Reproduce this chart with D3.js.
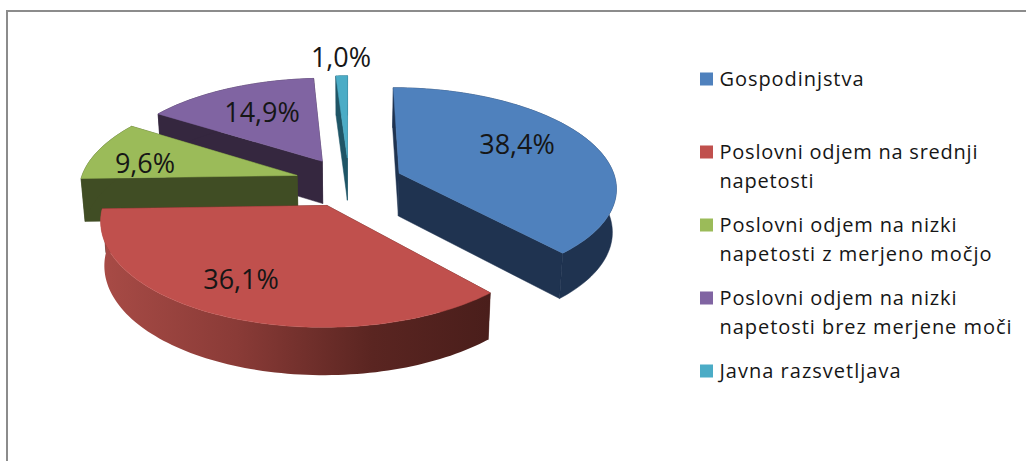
<!DOCTYPE html>
<html>
<head>
<meta charset="utf-8">
<script src="https://cdn.jsdelivr.net/npm/d3@7"></script>
<style>
html, body { margin: 0; padding: 0; background: #fff; }
svg { display: block; }
text { font-family: "Open Sans", sans-serif; fill: #161616; }
</style>
</head>
<body>
<svg id="chart" width="1026" height="461"></svg>
<script>
// Delež odjema po skupinah, exploded 3D pie
const categories = [
  "Gospodinjstva",
  "Poslovni odjem na srednji napetosti",
  "Poslovni odjem na nizki napetosti z merjeno močjo",
  "Poslovni odjem na nizki napetosti brez merjene moči",
  "Javna razsvetljava"
];
const legendLines = [
  ["Gospodinjstva"],
  ["Poslovni odjem na srednji", "napetosti"],
  ["Poslovni odjem na nizki", "napetosti z merjeno močjo"],
  ["Poslovni odjem na nizki", "napetosti brez merjene moči"],
  ["Javna razsvetljava"]
];
const legendLineWidths = [[144], [258, 94], [237, 272], [237, 292], [181]];
const values = [38.4, 36.1, 9.6, 14.9, 1.0];
const topColors = ["#4F81BD", "#C0504D", "#9BBB59", "#8064A2", "#4BACC6"];
const wallColors = ["#1F3350", "#4A1E1B", "#404D24", "#35273F", "#1F5566"];
const labelPositions = [[517, 144], [241, 279], [145, 163], [262, 112], [341, 57]];

const svg = d3.select("#chart");

// Frame: only the top and left edges are visible
svg.append("path")
  .attr("d", "M7,461 V11 H1026")
  .attr("fill", "none")
  .attr("stroke", "#8c8c8c")
  .attr("stroke-width", 2);

// Ground-plane projection with mild perspective
const cx = 349, cy = 182, rx = 217, ry = 99, persp = 0.132, explode = 0.25;
const project = (gx, gy) => {
  const s = 1 / (1 + persp * gy);
  return { x: cx + rx * gx * s, y: cy - ry * gy * s, s };
};
const lift = p => [p.x, p.y];
const drop = p => [cx + (p.x - cx) * 0.985, p.y + 18 + 25 * p.s];

const pie = d3.pie().sort(null).value(d => d)(values);
const line = d3.line();
const defs = svg.append("defs");

const grad = defs.append("linearGradient")
  .attr("id", "redWall")
  .attr("gradientUnits", "userSpaceOnUse")
  .attr("x1", 101).attr("x2", 489).attr("y1", 0).attr("y2", 0);
[[0, "#A84B46"], [0.35, "#8A3B37"], [0.7, "#5A2521"], [1, "#4A1E1B"]].forEach(([o, c]) =>
  grad.append("stop").attr("offset", o).attr("stop-color", c));

// Back-to-front painting order
const order = [4, 3, 2, 0, 1];
const g = svg.append("g");

order.forEach(i => {
  const d = pie[i];
  const mid = (d.startAngle + d.endAngle) / 2;
  const ox = explode * Math.sin(mid), oy = explode * Math.cos(mid);
  const apex = project(ox, oy);
  const n = Math.max(6, Math.ceil((d.endAngle - d.startAngle) * 40));
  const rim = d3.range(n + 1).map(k => {
    const a = d.startAngle + (d.endAngle - d.startAngle) * k / n;
    return project(ox + Math.sin(a), oy + Math.cos(a));
  });
  const first = rim[0], last = rim[n];
  const quad = (a, b) => [lift(a), lift(b), drop(b), drop(a)];
  const dark = wallColors[i];

  // Radial walls, the farther one first
  const radial = [quad(apex, first), quad(apex, last)]
    .sort((a, b) => d3.mean(a, p => p[1]) - d3.mean(b, p => p[1]));
  radial.forEach(q => g.append("path")
    .attr("d", line(q) + "Z").attr("fill", dark).attr("stroke", dark).attr("stroke-width", 0.5));

  // Outer rim wall
  const outer = rim.map(lift).concat(rim.slice().reverse().map(drop));
  g.append("path")
    .attr("d", line(outer) + "Z")
    .attr("fill", i === 1 ? "url(#redWall)" : dark)
    .attr("stroke", i === 1 ? "none" : dark)
    .attr("stroke-width", 0.5);

  // Top face
  const top = [lift(apex)].concat(rim.map(lift));
  g.append("path")
    .attr("d", line(top) + "Z")
    .attr("fill", topColors[i])
    .attr("stroke", topColors[i])
    .attr("stroke-width", 0.5);
});

// Value labels
const fmt = v => v.toFixed(1).replace(".", ",") + "%";
svg.append("g").selectAll("text").data(values).join("text")
  .attr("x", (d, i) => labelPositions[i][0])
  .attr("y", (d, i) => labelPositions[i][1])
  .attr("dy", "0.36em")
  .attr("text-anchor", "middle")
  .attr("font-size", 27)
  .text(fmt);

// Legend
const legendY = d3.scalePoint().domain(categories).range([79, 371]);
const legend = svg.append("g").selectAll("g").data(categories).join("g")
  .attr("transform", d => `translate(700,${legendY(d)})`);
legend.append("rect")
  .attr("x", 0).attr("y", -6.5).attr("width", 13).attr("height", 13)
  .attr("fill", (d, i) => topColors[i]);
legend.each(function (d, i) {
  d3.select(this).selectAll("text").data(legendLines[i]).join("text")
    .attr("x", 19.5)
    .attr("y", (t, k) => k * 29)
    .attr("dy", "0.36em")
    .attr("font-size", 20)
    .attr("textLength", (t, k) => legendLineWidths[i][k])
    .attr("lengthAdjust", "spacing")
    .text(t => t);
});
</script>
</body>
</html>
